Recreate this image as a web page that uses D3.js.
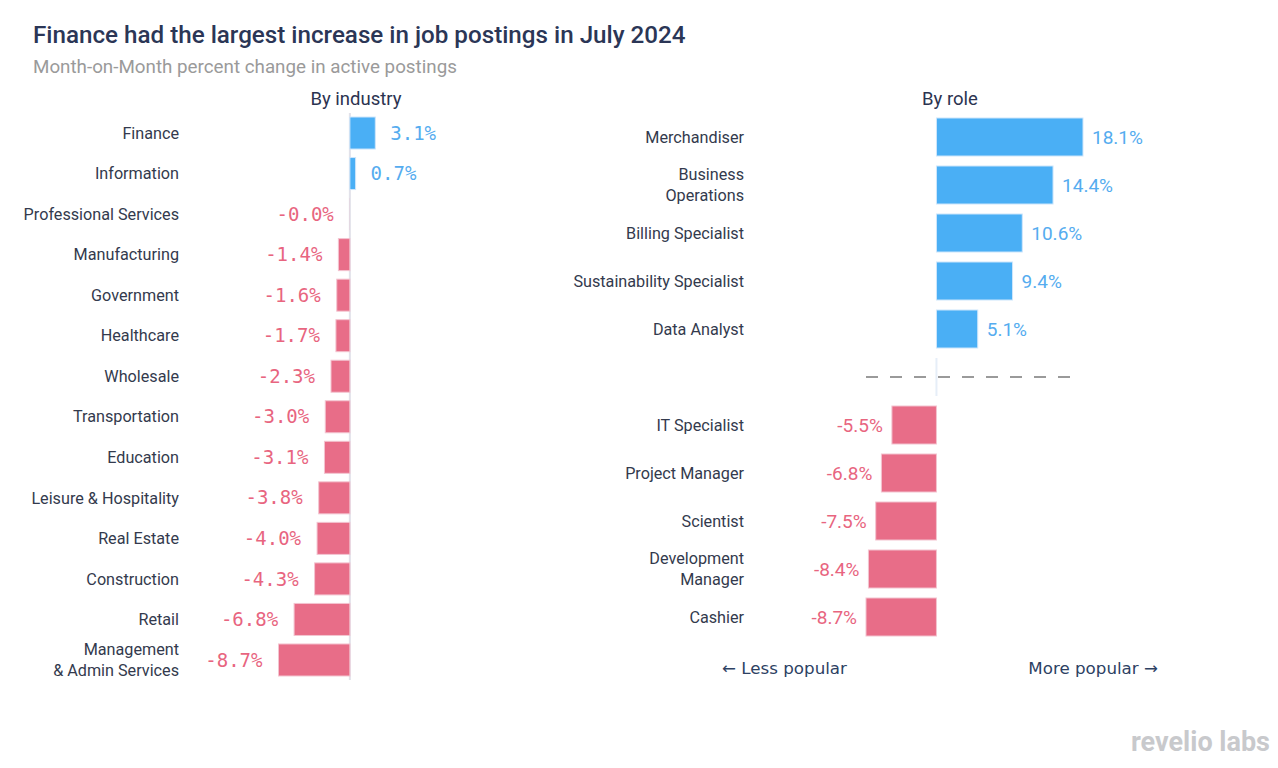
<!DOCTYPE html>
<html><head><meta charset="utf-8">
<script src="https://cdn.jsdelivr.net/npm/d3@7"></script>
<style>body{margin:0;background:#fff}svg{display:block}</style>
</head><body>
<svg id="chart" width="1278" height="768"></svg>
<script>
const industries = ["Finance","Information","Professional Services","Manufacturing","Government","Healthcare","Wholesale","Transportation","Education","Leisure & Hospitality","Real Estate","Construction","Retail","Management\n& Admin Services"];
const industryValues = [3.1,0.7,-0.01,-1.4,-1.6,-1.7,-2.3,-3.0,-3.1,-3.8,-4.0,-4.3,-6.8,-8.7];
const rolesUp = ["Merchandiser","Business\nOperations","Billing Specialist","Sustainability Specialist","Data Analyst"];
const rolesUpValues = [18.1,14.4,10.6,9.4,5.1];
const rolesDown = ["IT Specialist","Project Manager","Scientist","Development\nManager","Cashier"];
const rolesDownValues = [-5.5,-6.8,-7.5,-8.4,-8.7];
const SEP = "__sep__";

const svg = d3.select("#chart");
const BLUE = "#4aaff5", PINK = "#e86d88";
const BLUE_T = "#55acef", PINK_T = "#e8657f";
const fmt = v => (v < 0 ? "-" : "") + Math.abs(v).toFixed(1) + "%";

// Titles
svg.append("text").attr("x",33).attr("y",43).attr("font-family","Roboto").attr("font-weight",500)
  .attr("font-size",24.2).attr("fill","#2b3656").text("Finance had the largest increase in job postings in July 2024");
svg.append("text").attr("x",33).attr("y",73).attr("font-family","Roboto")
  .attr("font-size",18.8).attr("fill","#9a9a9a").text("Month-on-Month percent change in active postings");

function multiline(sel, label, x, yc, lh){
  const lines = label.split("\n");
  const t = sel.append("text").attr("x",x).attr("text-anchor","end")
    .attr("font-family","Roboto").attr("font-size",16.2).attr("fill","#333a4d");
  lines.forEach((l,i)=>{
    t.append("tspan").attr("x",x).attr("y", yc + (i - (lines.length-1)/2)*lh).attr("dy","0.35em").text(l);
  });
}

// ---------- Left panel ----------
const indData = industries.map((c,i)=>({c, v: industryValues[i]}));
const xL = d3.scaleLinear().domain([-8.7,3.1]).range([278.5,375.3]);
const yL = d3.scaleBand().domain(industries).range([112.75,680.25]).paddingInner(0.21).paddingOuter(0.105);
const gL = svg.append("g");
svg.append("text").attr("x",356).attr("y",105).attr("text-anchor","middle").attr("font-family","Roboto")
  .attr("font-size",18.5).attr("fill","#2b3350").text("By industry");
gL.append("line").attr("x1",xL(0)).attr("x2",xL(0)).attr("y1",113).attr("y2",680)
  .attr("stroke","#e2e2ea").attr("stroke-width",2);
gL.selectAll("rect.bar").data(indData).join("rect").attr("class","bar")
  .attr("x",d=>Math.min(xL(0),xL(d.v))).attr("width",d=>Math.abs(xL(d.v)-xL(0)))
  .attr("y",d=>yL(d.c)).attr("height",yL.bandwidth())
  .attr("fill",d=>d.v>=0?BLUE:PINK)
  .attr("stroke",d=>d.v>=0?"#cfe6fb":"#f3c4d0").attr("stroke-width",d=>Math.abs(d.v)>0.05?1:0);
gL.selectAll("text.val").data(indData).join("text").attr("class","val")
  .attr("x",d=>d.v>=0? xL(d.v)+15 : xL(d.v)-16)
  .attr("y",d=>yL(d.c)+yL.bandwidth()/2).attr("dy","0.35em")
  .attr("text-anchor",d=>d.v>=0?"start":"end")
  .attr("font-family","DejaVu Sans Mono").attr("font-size",19)
  .attr("fill",d=>d.v>=0?BLUE_T:PINK_T).text(d=>fmt(d.v));
indData.forEach(d=>multiline(gL, d.c, 179, yL(d.c)+yL.bandwidth()/2, 21));

// ---------- Right panel ----------
const roleDomain = [...rolesUp, SEP, ...rolesDown];
const roleData = rolesUp.map((c,i)=>({c, v: rolesUpValues[i]})).concat(rolesDown.map((c,i)=>({c, v: rolesDownValues[i]})));
const xR = d3.scaleLinear().domain([-8.7,18.1]).range([866,1083]);
const yR = d3.scaleBand().domain(roleDomain).range([113,641]).paddingInner(0.208).paddingOuter(0.104);
const gR = svg.append("g");
svg.append("text").attr("x",950).attr("y",105).attr("text-anchor","middle").attr("font-family","Roboto")
  .attr("font-size",18.5).attr("fill","#2b3350").text("By role");
const ySep = yR(SEP)+yR.bandwidth()/2;
gR.append("line").attr("x1",xR(0)).attr("x2",xR(0)).attr("y1",yR(SEP)).attr("y2",yR(SEP)+yR.bandwidth())
  .attr("stroke","#e6eef8").attr("stroke-width",2);
gR.append("line").attr("x1",866).attr("x2",1074).attr("y1",ySep).attr("y2",ySep)
  .attr("stroke","#9a9a9a").attr("stroke-width",2).attr("stroke-dasharray","12,12");
gR.selectAll("rect.bar").data(roleData).join("rect").attr("class","bar")
  .attr("x",d=>Math.min(xR(0),xR(d.v))).attr("width",d=>Math.abs(xR(d.v)-xR(0)))
  .attr("y",d=>yR(d.c)).attr("height",yR.bandwidth())
  .attr("fill",d=>d.v>=0?BLUE:PINK)
  .attr("stroke",d=>d.v>=0?"#cfe6fb":"#f3c4d0").attr("stroke-width",1);
gR.selectAll("text.val").data(roleData).join("text").attr("class","val")
  .attr("x",d=>d.v>=0? xR(d.v)+9 : xR(d.v)-9)
  .attr("y",d=>yR(d.c)+yR.bandwidth()/2).attr("dy","0.35em")
  .attr("text-anchor",d=>d.v>=0?"start":"end")
  .attr("font-family","Roboto").attr("font-size",19)
  .attr("fill",d=>d.v>=0?BLUE_T:PINK_T).text(d=>fmt(d.v));
roleData.forEach(d=>multiline(gR, d.c, 744, yR(d.c)+yR.bandwidth()/2, 21));

svg.append("text").attr("x",722).attr("y",674).attr("font-family","DejaVu Sans").attr("font-size",16.7)
  .attr("fill","#2d4163").text("\u2190 Less popular");
svg.append("text").attr("x",1158).attr("y",674).attr("text-anchor","end").attr("font-family","DejaVu Sans").attr("font-size",16.7)
  .attr("fill","#2d4163").text("More popular \u2192");

// logo
svg.append("text").attr("x",1270).attr("y",751).attr("text-anchor","end").attr("font-family","Roboto")
  .attr("font-weight",700).attr("font-size",27).attr("fill","#c8c9cc").text("revelio labs");
</script>
</body></html>
